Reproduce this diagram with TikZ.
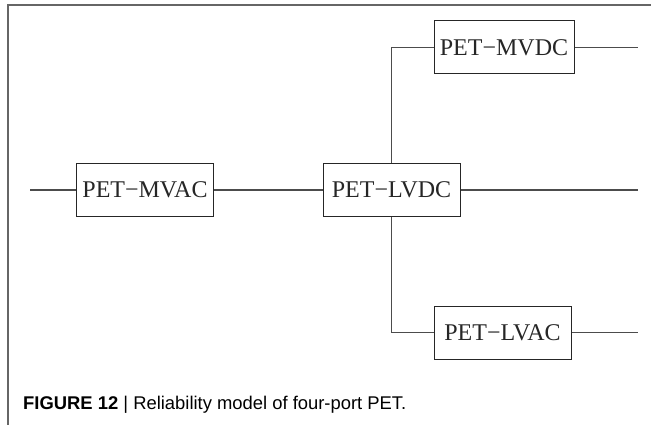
\documentclass[tikz,border=0pt]{standalone}
\usepackage{fontspec}
\setmainfont{Liberation Serif}
\newfontfamily\capfont{Liberation Sans}
\begin{document}
\begin{tikzpicture}[x=1pt,y=-1pt,
  blk/.style={draw=black!85, line width=1pt, minimum height=53pt, inner sep=0pt, font=\fontsize{24}{27}\selectfont, text=black!85},
  wire/.style={draw=black!70, line width=1.1pt},
  frame/.style={draw=black!60, line width=1.2pt}]
\useasboundingbox (0,0) rectangle (651,425);
\draw[frame] (8,425) -- (8,5) -- (651,5);
\node[blk, minimum width=137pt] (mvac) at (145,190) {PET−MVAC};
\node[blk, minimum width=137pt] (lvdc) at (391.5,190) {PET−LVDC};
\node[blk, minimum width=140pt] (mvdc) at (504,47.5) {PET−MVDC};
\node[blk, minimum width=137pt] (lvac) at (502.5,332.5) {PET−LVAC};
\coordinate (in) at (30,190);
\coordinate (o1) at (637.5,47.5);
\coordinate (o2) at (637.5,190);
\coordinate (o3) at (637.5,332.5);
\draw[wire] (in) -- (mvac.west);
\draw[wire] (mvac.east) -- (lvdc.west);
\draw[wire] (lvdc.east) -- (o2);
\draw[wire] (lvdc.north) |- (mvdc.west);
\draw[wire] (lvdc.south) |- (lvac.west);
\draw[wire] (mvdc.east) -- (o1);
\draw[wire] (lvac.east) -- (o3);
\node[anchor=base west, inner sep=0pt, font=\capfont\fontsize{18.4}{21}\selectfont] (cap) at (23,409) {\textbf{FIGURE 12} | Reliability model of four-port PET.};
\end{tikzpicture}
\end{document}
